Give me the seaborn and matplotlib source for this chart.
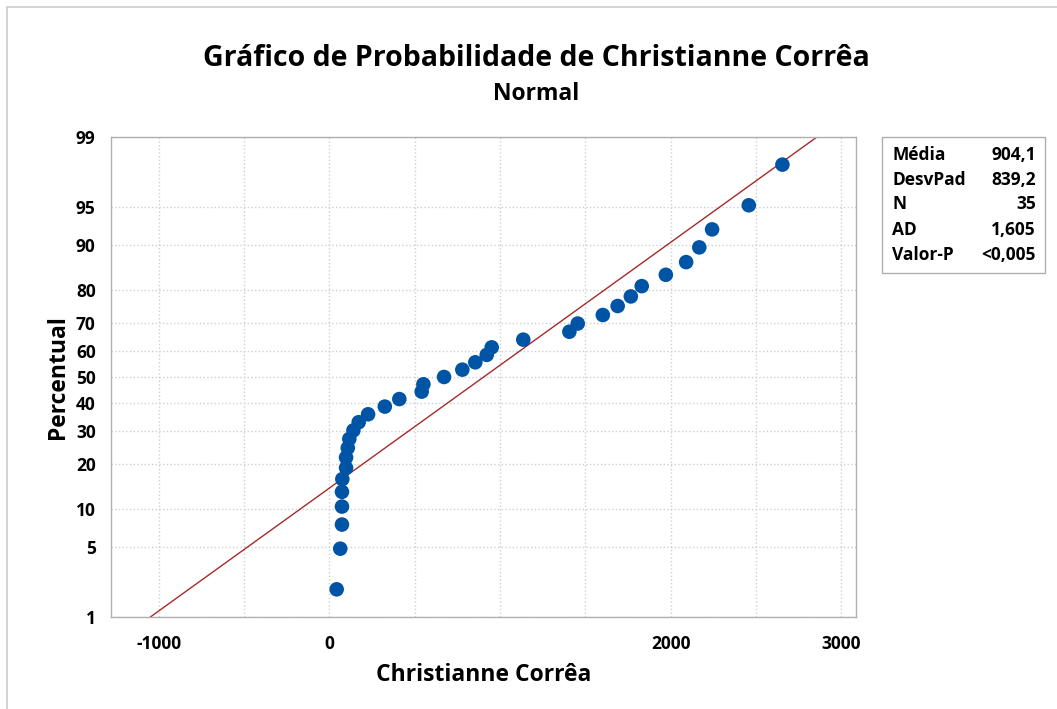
import numpy as np
import pandas as pd
import seaborn as sns
import matplotlib
matplotlib.use("Agg")
import matplotlib.pyplot as plt
from matplotlib.patches import Rectangle
from matplotlib.lines import Line2D
from statistics import NormalDist

# values (sorted)
valores = [43, 64, 74, 74, 74, 76, 98, 98, 108, 117, 141, 172, 227, 325, 410,
           541, 551, 672, 779, 855, 922, 951, 1136, 1406, 1455, 1602, 1689,
           1766, 1830, 1971, 2090, 2167, 2242, 2457, 2654]
media = 904.1
desvpad = 839.2

stat_labels = ["Média", "DesvPad", "N", "AD", "Valor-P"]
stat_values = ["904,1", "839,2", "35", "1,605", "<0,005"]

y_ticks = [1, 5, 10, 20, 30, 40, 50, 60, 70, 80, 90, 95, 99]
x_ticks = [-1000, 0, 1000, 2000, 3000]

n = len(valores)
rank = np.arange(1, n + 1)
df = pd.DataFrame({"x": valores, "pct": (rank - 0.3) / (n + 0.4) * 100})

nd = NormalDist()
fit_pct = np.array([1.0, 99.0])
fit = pd.DataFrame({"pct": fit_pct,
                    "x": [media + desvpad * nd.inv_cdf(p / 100) for p in fit_pct]})


def fwd(p):
    p = np.clip(np.asarray(p, dtype=float), 1e-6, 100 - 1e-6)
    return np.vectorize(lambda v: nd.inv_cdf(v / 100), otypes=[float])(p)


def inv(z):
    z = np.asarray(z, dtype=float)
    return np.vectorize(lambda v: nd.cdf(v) * 100, otypes=[float])(z)


sns.set_style("white")
plt.rcParams['font.family'] = ['Open Sans', 'DejaVu Sans']
plt.rcParams['text.color'] = 'black'
plt.rcParams['axes.labelcolor'] = 'black'
plt.rcParams['xtick.color'] = 'black'
plt.rcParams['ytick.color'] = 'black'

fig = plt.figure(figsize=(10.57, 7.09), dpi=100)
ax = fig.add_axes([0.105, 0.1298, 0.705, 0.677])

ax.set_yscale("function", functions=(fwd, inv))

sns.lineplot(data=fit, x="x", y="pct", color="#a52a2a", linewidth=1.0,
             ax=ax, zorder=2, sort=False)
sns.scatterplot(data=df, x="x", y="pct", color="#0054a6", s=110,
                edgecolor="none", ax=ax, zorder=3)

ax.set_xlim(-1279, 3086)
ax.set_ylim(1, 99)
ax.set_yticks(y_ticks)
ax.set_yticklabels([str(t) for t in y_ticks])
ax.set_xticks(x_ticks)
ax.set_xticklabels(["-1000", "0", "", "2000", "3000"])
ax.set_xticks(np.arange(-1000, 3001, 500), minor=True)
ax.yaxis.set_minor_locator(matplotlib.ticker.NullLocator())

ax.grid(True, which="both", axis="x", color="#cfcfcf", linestyle=":", linewidth=1.0)
ax.grid(True, which="major", axis="y", color="#cfcfcf", linestyle=":", linewidth=1.0)
ax.set_axisbelow(True)

for s in ax.spines.values():
    s.set_color("#b0b0b0")
    s.set_linewidth(1.0)

ax.tick_params(axis="both", which="major", direction="out", length=7,
               color="#b0b0b0", labelcolor="black", labelsize=12.5, pad=4)
ax.tick_params(axis="x", which="minor", length=0)
ax.tick_params(axis="x", which="major", pad=6)
for lbl in ax.get_xticklabels() + ax.get_yticklabels():
    lbl.set_fontweight("bold")

ax.set_xlabel("Christianne Corrêa", fontsize=16.5, fontweight="bold",
              color="black", labelpad=7)
ax.set_ylabel("Percentual", fontsize=16.5, fontweight="bold",
              color="black", labelpad=4)

fig.text(0.507, 0.917, "Gráfico de Probabilidade de Christianne Corrêa",
         ha="center", va="center", fontsize=20.5, fontweight="bold")
fig.text(0.507, 0.867, "Normal", ha="center", va="center",
         fontsize=16.5, fontweight="bold")

# stats box
W, H = 1057, 709
fig.patches.append(Rectangle((882 / W, 1 - 273 / H), (1045 - 882) / W, (273 - 137) / H,
                             transform=fig.transFigure, fill=False,
                             edgecolor="#b0b0b0", linewidth=1.0))
row_y = [155, 180, 204, 230, 255]
for lab, val, yy in zip(stat_labels, stat_values, row_y):
    fig.text(892 / W, 1 - yy / H, lab, ha="left", va="center",
             fontsize=12.5, fontweight="bold")
    fig.text(1036 / W, 1 - yy / H, val, ha="right", va="center",
             fontsize=12.5, fontweight="bold")

# outer frame lines (top and left)
fig.lines.append(Line2D([7 / W, 1], [1 - 7 / H, 1 - 7 / H], transform=fig.transFigure,
                        color="#cccccc", linewidth=1.2))
fig.lines.append(Line2D([7 / W, 7 / W], [0, 1 - 7 / H], transform=fig.transFigure,
                        color="#cccccc", linewidth=1.2))

fig.savefig("out.png", dpi=100)
